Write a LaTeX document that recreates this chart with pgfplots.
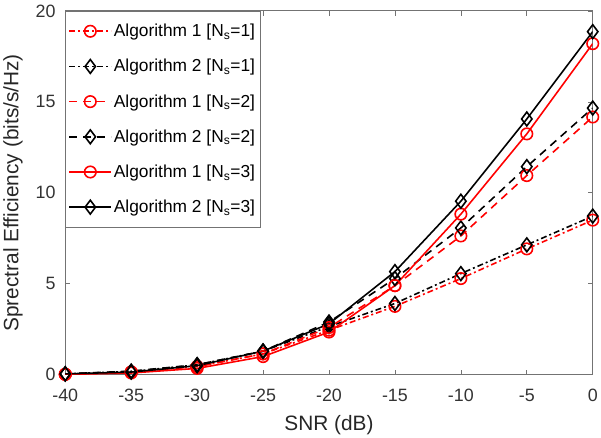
\documentclass[border=0pt]{standalone}
\usepackage{fontspec}
\setmainfont{Liberation Sans}
\usepackage{pgfplots}
\pgfplotsset{compat=1.18}
\definecolor{axgray}{rgb}{0.45,0.45,0.45}
\begin{document}
\begin{tikzpicture}
\begin{axis}[
  scale only axis,
  width=532pt, height=367pt,
  xmin=-40, xmax=0, ymin=0, ymax=20,
  xtick={-40,-35,...,0}, ytick={0,5,10,15,20},
  tick align=inside,
  major tick length=5pt,
  axis line style={axgray},
  tick style={axgray, line width=0.7pt},
  every axis/.append style={line width=0.9pt},
  /pgf/number format/assume math mode=true,
  ticklabel style={font=\fontsize{18}{21}\selectfont, text=black!80},
  xticklabel style={yshift=-11pt},
  yticklabel style={xshift=-6pt},
  label style={font=\fontsize{21}{24}\selectfont, text=black!85},
  xlabel={SNR (dB)},
  ylabel={Sprectral Efficiency (bits/s/Hz)},
  xlabel style={yshift=-6pt},
  ylabel style={yshift=6pt},
  legend cell align=left,
  legend style={at={(0,1)}, anchor=north west, draw=axgray, line width=0.9pt,
    font=\fontsize{17.5}{20}\selectfont, row sep=17.3pt, inner xsep=3pt, inner ysep=11pt},
  legend image code/.code={\draw[mark repeat=2,mark phase=2] plot coordinates {(0pt,0pt) (21pt,0pt) (42pt,0pt)};},
  every axis plot/.append style={line width=1.6pt},
]
% Algorithm 1 Ns=1
\addplot[red, dash pattern=on 6pt off 3pt on 2pt off 3pt, mark=o, mark size=5.8pt, mark options={solid, fill=none}]
coordinates {(-40,0.03)(-35,0.15)(-30,0.45)(-25,1.15)(-20,2.45)(-15,3.76)(-10,5.29)(-5,6.92)(0,8.5)};
\addlegendentry{Algorithm 1 [N\textsubscript{s}=1]}
% Algorithm 2 Ns=1
\addplot[black, dash pattern=on 6pt off 3pt on 2pt off 3pt, mark=diamond, mark size=7pt, mark options={solid, fill=none}]
coordinates {(-40,0.05)(-35,0.18)(-30,0.55)(-25,1.3)(-20,2.65)(-15,3.92)(-10,5.56)(-5,7.14)(0,8.72)};
\addlegendentry{Algorithm 2 [N\textsubscript{s}=1]}
% Algorithm 1 Ns=2
\addplot[red, dash pattern=on 8pt off 6pt, mark=o, mark size=5.8pt, mark options={solid, fill=none}]
coordinates {(-40,0.03)(-35,0.16)(-30,0.45)(-25,1.15)(-20,2.6)(-15,4.9)(-10,7.63)(-5,10.95)(0,14.17)};
\addlegendentry{Algorithm 1 [N\textsubscript{s}=2]}
% Algorithm 2 Ns=2
\addplot[black, dash pattern=on 8pt off 6pt, mark=diamond, mark size=7pt, mark options={solid, fill=none}]
coordinates {(-40,0.05)(-35,0.2)(-30,0.55)(-25,1.3)(-20,2.9)(-15,5.29)(-10,8.07)(-5,11.44)(0,14.66)};
\addlegendentry{Algorithm 2 [N\textsubscript{s}=2]}
% Algorithm 1 Ns=3
\addplot[red, solid, mark=o, mark size=5.8pt, mark options={solid, fill=none}]
coordinates {(-40,0.02)(-35,0.1)(-30,0.35)(-25,1.0)(-20,2.35)(-15,4.9)(-10,8.83)(-5,13.24)(0,18.2)};
\addlegendentry{Algorithm 1 [N\textsubscript{s}=3]}
% Algorithm 2 Ns=3
\addplot[black, solid, mark=diamond, mark size=7pt, mark options={solid, fill=none}]
coordinates {(-40,0.05)(-35,0.15)(-30,0.5)(-25,1.3)(-20,2.8)(-15,5.67)(-10,9.54)(-5,14.06)(0,18.86)};
\addlegendentry{Algorithm 2 [N\textsubscript{s}=3]}
\end{axis}
\path ([yshift=11pt]current axis.north);
\end{tikzpicture}
\end{document}
